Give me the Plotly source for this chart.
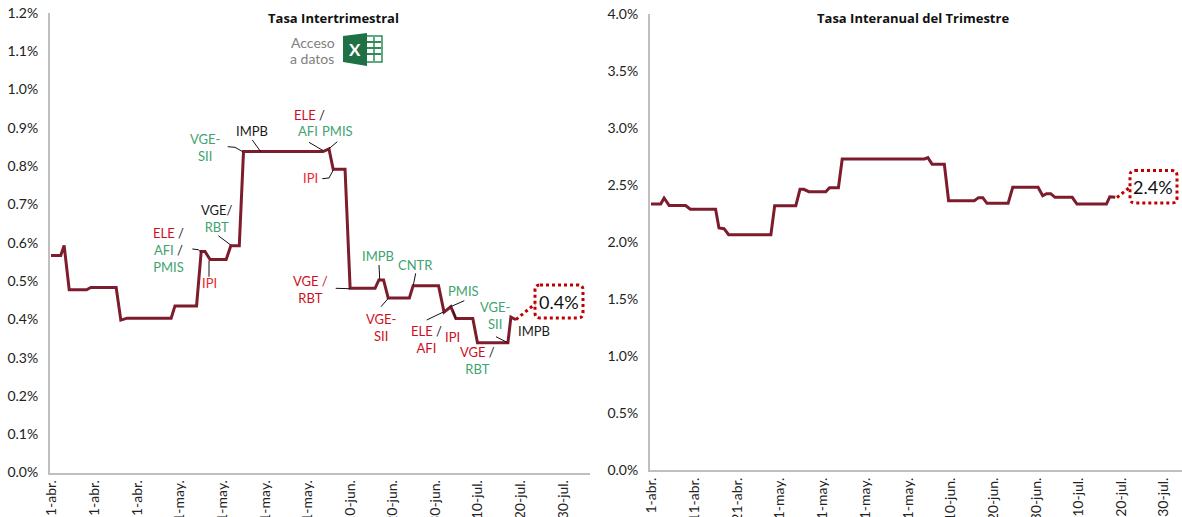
import plotly.graph_objects as go

W, H = 1182, 517
tick_labels = ["1-abr.", "11-abr.", "21-abr.", "1-may.", "11-may.", "21-may.", "31-may.",
               "10-jun.", "20-jun.", "30-jun.", "10-jul.", "20-jul.", "30-jul."]
q_ticks = [0.2, 10.3, 20.4, 30.4, 40.5, 50.6, 60.7, 70.7, 80.8, 90.9, 100.9, 111.0, 121.1]
y_ticks = [0.2, 10.3, 20.4, 30.5, 40.6, 50.7, 60.9, 71.0, 81.1, 91.2, 101.3, 111.4, 121.5]

q_days = [0, 2.3, 3.1, 4.3, 8.4, 9.4, 15.4, 16.5, 18, 28.4, 29.3, 34.4, 35.5, 36.4, 37.6, 41.4, 42.5,
          44.5, 45.5, 64.3, 65.7, 66.7, 69.5, 70.7, 76.6, 77.5, 78.6, 79.7, 84.7, 85.6, 91.6, 92.9,
          94.5, 95.7, 99.7, 100.8, 108, 108.7, 109.9]
q_vals = [.567, .567, .593, .477, .477, .483, .483, .398, .403, .403, .435, .435, .577, .577, .556,
          .556, .592, .592, .838, .838, .845, .792, .792, .481, .481, .503, .503, .456, .456, .488,
          .488, .419, .433, .402, .402, .339, .339, .406, .399]

y_days = [0, 2.3, 3.1, 4.3, 8.2, 9.3, 15.3, 16.1, 17.3, 18.4, 28.4, 29.3, 34.3, 35.3, 36.2, 37.4, 41.4,
          42.3, 44.4, 45.3, 64.8, 65.6, 66.6, 69.5, 70.5, 76.6, 77.6, 78.6, 79.6, 84.6, 85.7, 91.7,
          92.8, 93.7, 94.7, 95.7, 99.8, 100.9, 107.9, 108.7, 110]
y_vals = [2.333, 2.333, 2.386, 2.32, 2.32, 2.287, 2.287, 2.123, 2.117, 2.064, 2.064, 2.318, 2.318,
          2.462, 2.462, 2.441, 2.441, 2.476, 2.476, 2.728, 2.728, 2.74, 2.681, 2.681, 2.362, 2.362,
          2.389, 2.389, 2.339, 2.339, 2.48, 2.48, 2.406, 2.424, 2.424, 2.392, 2.392, 2.333, 2.333,
          2.397, 2.392]

FONT = "Lato"
RED, GREEN, BRIGHT, BLACK = "#CC0F1F", "#3FA36F", "#E8262D", "#1A1A1A"
LINE = "#7C1C2C"


def c(text, col):
    return f'<span style="color:{col}">{text}</span>'


def px(x):
    return x / W


def py(y):
    return 1 - y / H


labels = [
    (205, 147.5, c("VGE-", GREEN) + "<br>" + c("SII", GREEN)),
    (252, 131, c("IMPB", BLACK)),
    (309, 115, c("ELE", RED) + c(" /", BLACK)),
    (308, 131, c("AFI", GREEN)),
    (337, 131, c("PMIS", GREEN)),
    (311, 178, c("IPI", BRIGHT)),
    (217, 218, c("VGE/", BLACK) + "<br>" + c("RBT", GREEN)),
    (168, 250, c("ELE", RED) + c(" /", BLACK) + "<br>" + c("AFI", GREEN) + c(" /", BLACK) + "<br>" + c("PMIS", GREEN)),
    (209, 283, c("IPI", BRIGHT)),
    (311, 289, c("VGE /", RED) + "<br>" + c("RBT", RED)),
    (378, 255.5, c("IMPB", GREEN)),
    (415, 265, c("CNTR", GREEN)),
    (381, 327, c("VGE-", RED) + "<br>" + c("SII", RED)),
    (464, 290.5, c("PMIS", GREEN)),
    (495.5, 315, c("VGE-", GREEN) + "<br>" + c("SII", GREEN)),
    (426, 339, c("ELE", RED) + c(" /", BLACK) + "<br>" + c("AFI", RED)),
    (452, 336.5, c("IPI", RED)),
    (478, 360, c("VGE", RED) + c(" /", BLACK) + "<br>" + c("RBT", GREEN)),
    (534, 330.5, c("IMPB", BLACK)),
]

leaders = [
    [(227.7, 146.7), (235, 147.3), (242.7, 151.7)],
    [(252.3, 140), (260.7, 151.7)],
    [(218.3, 235.7), (230.7, 245)],
    [(192.3, 249), (198.3, 249.7), (201, 252.3)],
    [(209, 260.7), (209, 276.7)],
    [(309, 142.3), (323.3, 150.7)],
    [(337.3, 141.7), (329, 148.7)],
    [(322.3, 178.7), (329, 178), (333.3, 170)],
    [(335.7, 288.3), (350, 288.7)],
    [(379, 265), (379.7, 279.3)],
    [(381, 306.7), (388.3, 298.3)],
    [(415.7, 273.3), (413.3, 285.3)],
    [(426.7, 320), (444, 311.7)],
    [(464.3, 300.7), (450.7, 306.7)],
    [(453.3, 310.7), (455.7, 318.7)],
    [(496, 336.7), (507.7, 342.7)],
]

fig = go.Figure()
fig.add_trace(go.Scatter(x=q_days, y=q_vals, mode="lines", xaxis="x", yaxis="y", showlegend=False,
                         line=dict(color=LINE, width=3)))
fig.add_trace(go.Scatter(x=y_days, y=y_vals, mode="lines", xaxis="x2", yaxis="y2", showlegend=False,
                         line=dict(color=LINE, width=3)))

axis_x = dict(tickmode="array", ticktext=tick_labels, tickangle=-90,
              showgrid=False, zeroline=False, showline=True, linecolor="#BFBFBF", linewidth=2,
              ticks="", tickfont=dict(family=FONT, size=14, color="#222222"), automargin=False)
axis_y = dict(showgrid=False, zeroline=False, showline=True, linecolor="#BFBFBF", linewidth=2,
              ticks="", tickformat=".1f", ticksuffix="%", ticklabelstandoff=7,
              tickfont=dict(family=FONT, size=14, color="#222222"), automargin=False)

shapes = []
for pts in leaders:
    d = "M" + " L".join(f"{px(x):.5f},{py(y):.5f}" for x, y in pts)
    shapes.append(dict(type="path", xref="paper", yref="paper", path=d,
                       line=dict(color="#111111", width=1)))


def rrect(x0, y0, x1, y1, r=5):
    rx, ry = r / W, r / H
    a, b, t, u = px(x0), px(x1), py(y0), py(y1)
    return (f"M{a+rx:.5f},{t:.5f} L{b-rx:.5f},{t:.5f} Q{b:.5f},{t:.5f} {b:.5f},{t-ry:.5f} "
            f"L{b:.5f},{u+ry:.5f} Q{b:.5f},{u:.5f} {b-rx:.5f},{u:.5f} L{a+rx:.5f},{u:.5f} "
            f"Q{a:.5f},{u:.5f} {a:.5f},{u+ry:.5f} L{a:.5f},{t-ry:.5f} Q{a:.5f},{t:.5f} {a+rx:.5f},{t:.5f} Z")


dot = dict(color="#C00000", width=3, dash="3px,3px")
shapes += [
    dict(type="path", xref="paper", yref="paper", path=rrect(535, 285, 583, 318), line=dot, fillcolor="white"),
    dict(type="path", xref="paper", yref="paper", path=rrect(1130, 170.5, 1177, 203), line=dot, fillcolor="white"),
    dict(type="line", xref="paper", yref="paper", x0=px(516), y0=py(319.5), x1=px(535), y1=py(304), line=dot),
    dict(type="line", xref="paper", yref="paper", x0=px(1117), y0=py(197.5), x1=px(1130), y1=py(187), line=dot),
]

# Excel icon
shapes.append(dict(type="rect", xref="paper", yref="paper", x0=px(365), x1=px(382), y0=py(36), y1=py(62),
                   fillcolor="#FFFFFF", line=dict(color="#2E8B57", width=1.5)))
for gy in (42, 48, 54):
    shapes.append(dict(type="line", xref="paper", yref="paper", x0=px(367), x1=px(381), y0=py(gy), y1=py(gy),
                       line=dict(color="#2E8B57", width=2)))
shapes.append(dict(type="line", xref="paper", yref="paper", x0=px(374), x1=px(374), y0=py(37), y1=py(61),
                   line=dict(color="#2E8B57", width=1.5)))
shapes.append(dict(type="path", xref="paper", yref="paper",
                   path=f"M{px(343)},{py(36)} L{px(367)},{py(33)} L{px(367)},{py(66)} L{px(343)},{py(62)} Z",
                   fillcolor="#1E7145", line=dict(width=0)))

ann = []
for x, y, t in labels:
    ann.append(dict(xref="paper", yref="paper", x=px(x), y=py(y), text=t, showarrow=False,
                    xanchor="center", yanchor="middle", align="center",
                    font=dict(family=FONT, size=13, color=BLACK)))
for x, y, t, size, col, bold, fam in [
    (333, 18, "Tasa Intertrimestral", 13, "#111111", True, "Open Sans"),
    (912.5, 18, "Tasa Interanual del Trimestre", 13, "#111111", True, "Open Sans"),
    (313, 42, "Acceso", 14, "#808080", False, FONT),
    (312, 58, "a datos", 14, "#808080", False, FONT),
    (355, 49, "X", 17, "#FFFFFF", True, FONT),
    (558.5, 302, "0.4%", 18, "#111111", False, FONT),
    (1153, 187, "2.4%", 18, "#111111", False, FONT),
]:
    ann.append(dict(xref="paper", yref="paper", x=px(x), y=py(y), text=f"<b>{t}</b>" if bold else t,
                    showarrow=False, xanchor="center", yanchor="middle",
                    font=dict(family=fam, size=size, color=col)))

fig.update_layout(
    width=W, height=H, margin=dict(l=0, r=0, t=0, b=0), paper_bgcolor="white", plot_bgcolor="white",
    xaxis=dict(axis_x, tickvals=q_ticks, domain=[px(50), px(590)], range=[-0.24, 127.4], anchor="y"),
    yaxis=dict(axis_y, domain=[py(472.5), py(13)], range=[0, 1.2], dtick=0.1, anchor="x"),
    xaxis2=dict(axis_x, tickvals=y_ticks, domain=[px(650), 1], range=[-0.24, 125.8], anchor="y2"),
    yaxis2=dict(axis_y, domain=[py(470), py(14)], range=[0, 4], dtick=0.5, anchor="x2"),
    shapes=shapes, annotations=ann,
)
fig.write_html("out.html", config={"displayModeBar": False},
               post_script="document.body.style.margin='0';document.body.style.overflow='hidden';")
